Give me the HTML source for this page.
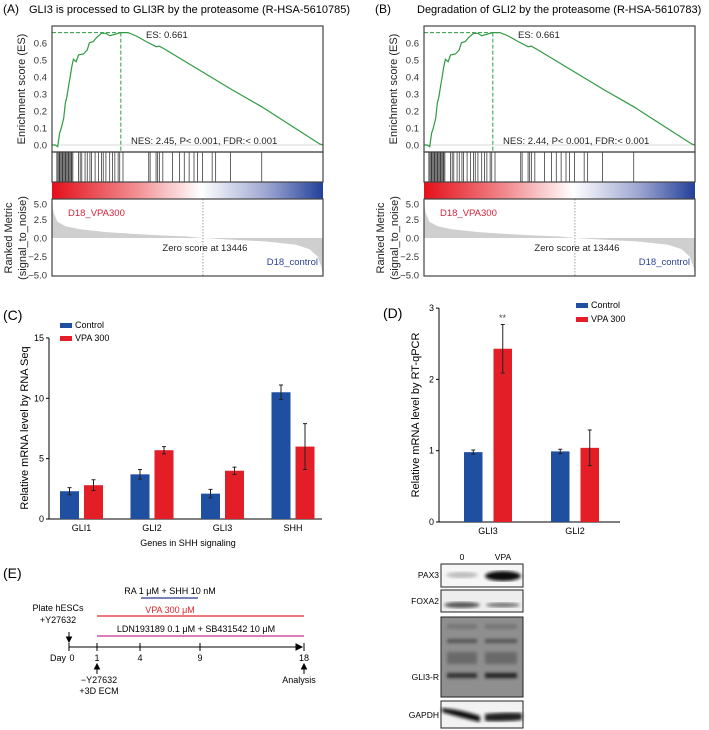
<!DOCTYPE html>
<html><head><meta charset="utf-8"><style>
body{margin:0;background:#fff;}
svg{display:block;font-family:"Liberation Sans",Arial,sans-serif;}
</style></head><body>
<svg id="fig" width="709" height="730" viewBox="0 0 709 730" xmlns="http://www.w3.org/2000/svg">
<defs>
<linearGradient id="rb" x1="0" x2="1" y1="0" y2="0">
<stop offset="0" stop-color="#e4101a"/><stop offset="0.3" stop-color="#f08a8e"/><stop offset="0.55" stop-color="#ffffff"/><stop offset="0.8" stop-color="#9aa3d0"/><stop offset="1" stop-color="#22409a"/>
</linearGradient>
<filter id="bl"><feGaussianBlur stdDeviation="1.5"/></filter>
</defs>
<g id="gA"></g>
<g id="gB"></g>
<g id="gC"></g>
<g id="gD"></g>
<g id="gE">
<text x="3" y="578" font-size="14">(E)</text>
<text x="170" y="594" font-size="9" text-anchor="middle">RA 1 μM + SHH 10 nM</text>
<line x1="141" y1="598" x2="198" y2="598" stroke="#2a3a8e" stroke-width="1.3"/>
<text x="170" y="613" font-size="9" fill="#e3262c" text-anchor="middle">VPA 300 μM</text>
<line x1="97" y1="616" x2="304" y2="616" stroke="#e3262c" stroke-width="1.3"/>
<text x="196" y="632" font-size="9" text-anchor="middle">LDN193189 0.1 μM + SB431542 10 μM</text>
<line x1="97" y1="636" x2="304" y2="636" stroke="#c2318a" stroke-width="1.3"/>
<text x="58" y="611" font-size="9" text-anchor="middle">Plate hESCs</text>
<text x="58" y="623" font-size="9" text-anchor="middle">+Y27632</text>
<g stroke="#000" stroke-width="1" fill="none">
<line x1="69" y1="647" x2="300" y2="647"/><path d="M296,644 L302,647 L296,650Z" fill="#000"/>
<line x1="69" y1="643" x2="69" y2="651"/><line x1="97" y1="643" x2="97" y2="651"/><line x1="140" y1="643" x2="140" y2="651"/><line x1="200" y1="643" x2="200" y2="651"/><line x1="304" y1="643" x2="304" y2="651"/>
<line x1="69" y1="632" x2="69" y2="640"/><path d="M66.5,637 L69,642 L71.5,637Z" fill="#000"/>
<line x1="97" y1="666" x2="97" y2="674"/><path d="M94.5,669 L97,664 L99.5,669Z" fill="#000"/>
<line x1="304" y1="666" x2="304" y2="674"/><path d="M301.5,669 L304,664 L306.5,669Z" fill="#000"/>
</g>
<g font-size="9" text-anchor="middle">
<text x="58" y="661">Day</text><text x="72" y="661">0</text><text x="97" y="661">1</text><text x="140" y="661">4</text><text x="200" y="661">9</text><text x="304" y="661">18</text>
<text x="99" y="683">−Y27632</text><text x="99" y="694">+3D ECM</text><text x="299" y="683">Analysis</text>
</g>
<g font-size="8.5">
<text x="462" y="560" text-anchor="middle">0</text><text x="503" y="560" text-anchor="middle">VPA</text>
<text x="439" y="578" text-anchor="end">PAX3</text><text x="439" y="604" text-anchor="end">FOXA2</text><text x="439" y="680" text-anchor="end">GLI3-R</text><text x="439" y="718" text-anchor="end">GAPDH</text>
<rect x="441" y="564" width="82" height="23" fill="#f6f6f6" stroke="#222"/>
<ellipse cx="462" cy="575" rx="16" ry="3" fill="#bbb" filter="url(#bl)"/><ellipse cx="503" cy="576" rx="18" ry="5" fill="#111" filter="url(#bl)"/>
<rect x="441" y="590" width="82" height="22" fill="#eee" stroke="#222"/>
<ellipse cx="462" cy="605" rx="18" ry="3" fill="#555" filter="url(#bl)"/><ellipse cx="503" cy="605" rx="17" ry="2.5" fill="#777" filter="url(#bl)"/>
<rect x="441" y="617" width="82" height="80" fill="#8f8f8f" stroke="#222"/>
<g filter="url(#bl)">
<rect x="447" y="624" width="30" height="5" fill="#777"/><rect x="485" y="624" width="32" height="5" fill="#777"/>
<rect x="447" y="639" width="30" height="4" fill="#555"/><rect x="485" y="639" width="32" height="4" fill="#555"/>
<rect x="447" y="652" width="30" height="12" fill="#6a6a6a"/><rect x="485" y="652" width="32" height="12" fill="#6a6a6a"/>
<rect x="447" y="673" width="30" height="5" fill="#333"/><rect x="485" y="673" width="32" height="5" fill="#222"/>
</g>
<rect x="441" y="701" width="82" height="27" fill="#f2f2f2" stroke="#222"/>
<path d="M442,708 Q462,710 480,716 L480,722 Q462,718 442,712Z" fill="#111" filter="url(#bl)"/><path d="M485,714 Q505,712 522,713 L522,720 Q505,722 485,721Z" fill="#222" filter="url(#bl)"/>
</g>
</g>
</svg>
<script>
// GSEA running enrichment score (rank fraction, ES)
const esRank = [0,0.012,0.021,0.028,0.034,0.043,0.049,0.055,0.061,0.067,0.073,0.079,0.089,0.098,0.116,0.130,0.138,0.152,0.165,0.183,0.199,0.213,0.232,0.254,0.280,0.311,0.348,0.384,0.396,0.421,0.665,0.774,0.988,1];
const esValue = [0,0,-0.01,0.069,0.098,0.157,0.245,0.284,0.343,0.402,0.461,0.504,0.49,0.53,0.535,0.559,0.602,0.608,0.633,0.657,0.657,0.643,0.651,0.661,0.661,0.641,0.608,0.578,0.582,0.559,0.324,0.225,0.006,0];
// hit positions (per mille of ranked list)
const hits = [18,22,26,29,33,37,40,44,48,51,55,59,62,66,70,73,77,98,104,110,122,130,140,146,159,171,183,189,199,213,223,232,244,250,262,357,362,384,390,396,409,445,470,488,506,524,537,555,591,604,659,774];
// ranked metric
const metricRank = [0,0.005,0.02,0.05,0.1,0.2,0.3,0.4,0.5,0.557,0.7,0.8,0.9,0.95,0.98,0.995,1];
const metricValue = [5,3.5,2.2,1.6,1.2,0.8,0.55,0.35,0.2,0,-0.3,-0.5,-0.9,-1.5,-2.5,-4,-5.5];
const esTicks = [0,0.1,0.2,0.3,0.4,0.5,0.6];
const metricTicks = [5,2.5,0,-2.5,-5];
const esPeak = 0.661;
const zeroRank = 0.557;

// Panel C
const cCats = ["GLI1","GLI2","GLI3","SHH"];
const cControl = [2.3,3.7,2.1,10.5];
const cControlErr = [0.3,0.4,0.35,0.6];
const cVPA = [2.8,5.7,4.0,6.0];
const cVPAErr = [0.45,0.3,0.3,1.9];
const cTicks = [0,5,10,15];
// Panel D
const dCats = ["GLI3","GLI2"];
const dControl = [0.98,0.99];
const dControlErr = [0.03,0.03];
const dVPA = [2.43,1.04];
const dVPAErr = [0.34,0.25];
const dTicks = [0,1,2,3];

const NS="http://www.w3.org/2000/svg";
function mk(parent,tag,attrs,text){const e=document.createElementNS(NS,tag);for(const k in attrs)e.setAttribute(k,attrs[k]);if(text!==undefined)e.textContent=text;parent.appendChild(e);return e;}

function gsea(g,ox,title,label,nes){
  const L=ox+52,W=271,T=26,EB=152,HB=182,CB=199,RB=276;
  const ex=f=>L+f*W, ey=v=>145-v*170;
  const my=v=>238-v*7.4;
  let t=mk(g,'text',{x:ox+3,y:13,'font-size':12},label);
  
  
  t=mk(g,'text',{x:ox+(ox?45:29),y:13,'font-size':11},title);
  
  
  esTicks.forEach(v=>{mk(g,'text',{x:L-5,y:ey(v)+3.5,'font-size':9.5,'text-anchor':'end',fill:'#333'},v.toFixed(1));});
  mk(g,'line',{x1:L,x2:L+W,y1:ey(0),y2:ey(0),stroke:'#ccc','stroke-width':0.8});
  t=mk(g,'text',{transform:`translate(${ox+25},89) rotate(-90)`,'font-size':11,'text-anchor':'middle',fill:'#222'},'Enrichment score (ES)');
  
  
  let d='';esRank.forEach((f,i)=>{d+=(i?'L':'M')+ex(f).toFixed(1)+','+ey(esValue[i]).toFixed(1);});
  let p=mk(g,'path',{d:d,fill:'none',stroke:'#2f9a42','stroke-width':1.2});
  
  
  let pi=esValue.indexOf(Math.max(...esValue));
  mk(g,'line',{x1:L,x2:ex(esRank[pi]),y1:ey(esPeak),y2:ey(esPeak),stroke:'#2f9a42','stroke-dasharray':'4,2','stroke-width':1});
  mk(g,'line',{x1:ex(esRank[pi]),x2:ex(esRank[pi]),y1:ey(esPeak),y2:EB,stroke:'#2f9a42','stroke-dasharray':'4,2','stroke-width':1});
  mk(g,'text',{x:L+94,y:38,'font-size':9.5,fill:'#222'},'ES: '+esPeak.toFixed(3));
  mk(g,'text',{x:L+79,y:144,'font-size':9.5,fill:'#222'},nes);
  hits.forEach(h=>{const l=mk(g,'line',{x1:ex(h/1000),x2:ex(h/1000),y1:EB,y2:HB,stroke:'#222','stroke-width':0.7});
    
    });
  const cb=mk(g,'rect',{x:L,y:HB,width:W,height:CB-HB,fill:'url(#rb)'});
  
  
  let md='M'+L+','+my(0);
  metricRank.forEach((f,i)=>{md+='L'+ex(f).toFixed(1)+','+Math.max(CB,Math.min(RB,my(metricValue[i]))).toFixed(1);});
  md+='L'+(L+W)+','+my(0)+'Z';
  p=mk(g,'path',{d:md,fill:'#cfcfcf',stroke:'none'});
  
  
  mk(g,'line',{x1:ex(zeroRank),x2:ex(zeroRank),y1:CB,y2:RB,stroke:'#888','stroke-dasharray':'1.5,1.5','stroke-width':0.8});
  metricTicks.forEach(v=>{mk(g,'text',{x:L-5,y:Math.max(my(v),CB+5)+3.5,'font-size':9.5,'text-anchor':'end',fill:'#333'},v===0?'0.0':(v>0?v.toFixed(1):'−'+(-v).toFixed(1)));});
  mk(g,'text',{transform:`translate(${ox+12},238) rotate(-90)`,'font-size':11,'text-anchor':'middle',fill:'#222'},'Ranked Metric');
  mk(g,'text',{transform:`translate(${ox+26},238) rotate(-90)`,'font-size':11,'text-anchor':'middle',fill:'#222'},'(signal_to_noise)');
  mk(g,'text',{x:L+16,y:216,'font-size':9.5,fill:'#d8203a'},'D18_VPA300');
  mk(g,'text',{x:ex(zeroRank)+2,y:251,'font-size':9.5,'text-anchor':'middle',fill:'#222'},'Zero score at 13446');
  mk(g,'text',{x:L+W-5,y:265,'font-size':9.5,'text-anchor':'end',fill:'#2a3f9a'},'D18_control');
  [[T,EB],[EB,HB],[CB,RB]].forEach(r=>mk(g,'rect',{x:L,y:r[0],width:W,height:r[1]-r[0],fill:'none',stroke:'#444','stroke-width':1.2}));
}
gsea(document.getElementById('gA'),0,'GLI3 is processed to GLI3R by the proteasome (R-HSA-5610785)','(A)','NES: 2.45, P< 0.001, FDR:< 0.001');
gsea(document.getElementById('gB'),372,'Degradation of GLI2 by the proteasome (R-HSA-5610783)','(B)','NES: 2.44, P< 0.001, FDR:< 0.001');

function bars(g,o){
  const y=v=>o.y0-v*o.k;
  o.ticks.forEach(v=>{mk(g,'line',{x1:o.ax-3,x2:o.ax,y1:y(v),y2:y(v),stroke:'#000'});
    mk(g,'text',{x:o.ax-5,y:y(v)+3,'font-size':9,'text-anchor':'end'},String(v));});
  mk(g,'line',{x1:o.ax,x2:o.ax,y1:y(o.ticks[o.ticks.length-1]),y2:o.y0,stroke:'#000'});
  mk(g,'line',{x1:o.ax,x2:o.xend,y1:o.y0,y2:o.y0,stroke:'#000'});
  o.cats.forEach((c,i)=>{
    const x0=o.first+i*o.step;
    [[o.ctrl,o.ctrlE,'#1f4fa0',x0],[o.vpa,o.vpaE,'#e41e26',x0+o.gap]].forEach(s=>{
      const v=s[0][i],e=s[1][i],x=s[3];
      const r=mk(g,'rect',{x:x,y:y(v),width:o.bw,height:o.y0-y(v),fill:s[2]});
      
      
      const cx=x+o.bw/2;
      mk(g,'path',{d:`M${cx},${y(v+e)}V${y(v-e)}M${cx-2},${y(v+e)}H${cx+2}M${cx-2},${y(v-e)}H${cx+2}`,stroke:'#222','stroke-width':1,fill:'none'});
    });
    mk(g,'text',{x:x0+(o.gap+o.bw)/2,y:o.y0+12,'font-size':9,'text-anchor':'middle'},c);
  });
}
const gC=document.getElementById('gC');
mk(gC,'text',{x:3,y:320,'font-size':14},'(C)');
bars(gC,{cats:cCats,ctrl:cControl,ctrlE:cControlErr,vpa:cVPA,vpaE:cVPAErr,ticks:cTicks,ax:49,y0:519,k:12.07,first:60,step:70.5,gap:24,bw:19,xend:322});
mk(gC,'text',{transform:'translate(28,428) rotate(-90)','font-size':11,'text-anchor':'middle'},'Relative mRNA level by RNA Seq');
mk(gC,'text',{x:188,y:546,'font-size':9,'text-anchor':'middle'},'Genes in SHH signaling');
mk(gC,'rect',{x:60,y:323,width:12,height:5,fill:'#1f4fa0'});mk(gC,'text',{x:75,y:328,'font-size':9},'Control');
mk(gC,'rect',{x:60,y:336,width:12,height:5,fill:'#e41e26'});mk(gC,'text',{x:75,y:341,'font-size':9},'VPA 300');
const gD=document.getElementById('gD');
mk(gD,'text',{x:383,y:318,'font-size':14},'(D)');
bars(gD,{cats:dCats,ctrl:dControl,ctrlE:dControlErr,vpa:dVPA,vpaE:dVPAErr,ticks:dTicks,ax:439,y0:522,k:71.3,first:464,step:87,gap:29.5,bw:18.5,xend:620});
mk(gD,'text',{transform:'translate(419,415) rotate(-90)','font-size':11,'text-anchor':'middle'},'Relative mRNA level by RT-qPCR');
mk(gD,'text',{x:502.5,y:321,'font-size':9,'text-anchor':'middle',fill:'#444'},'**');
mk(gD,'rect',{x:576,y:303,width:12,height:5,fill:'#1f4fa0'});mk(gD,'text',{x:591,y:308,'font-size':9},'Control');
mk(gD,'rect',{x:576,y:317,width:12,height:5,fill:'#e41e26'});mk(gD,'text',{x:591,y:322,'font-size':9},'VPA 300');
</script>
</body></html>
